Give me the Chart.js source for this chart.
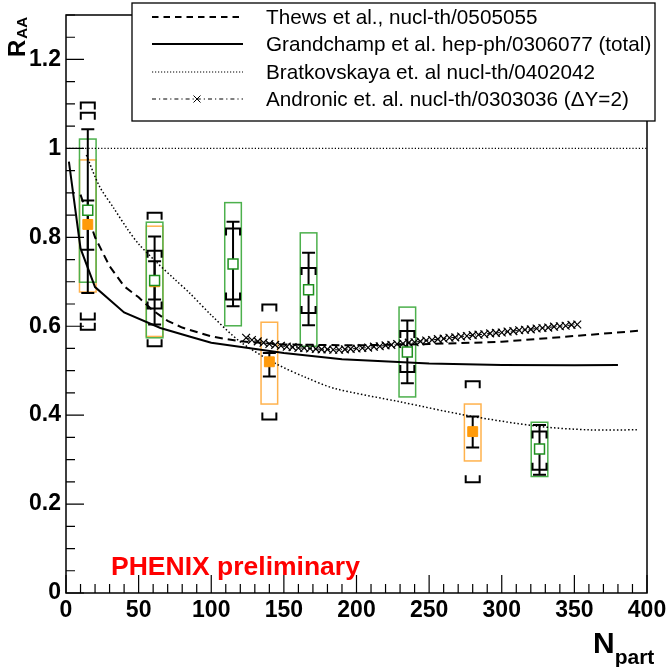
<!DOCTYPE html>
<html><head><meta charset="utf-8">
<script src="https://cdn.jsdelivr.net/npm/chart.js@4.4.0/dist/chart.umd.min.js"></script>
<style>html,body{margin:0;padding:0;background:#fff;} canvas{display:block;}</style>
</head><body>
<canvas id="c" width="667" height="667"></canvas>
<script>
// ---- axis ticks ----
const xTickValues = [0, 50, 100, 150, 200, 250, 300, 350, 400];
const xTickLabels = ['0', '50', '100', '150', '200', '250', '300', '350', '400'];
const yTickValues = [0, 0.2, 0.4, 0.6, 0.8, 1.0, 1.2];
const yTickLabels = ['0', '0.2', '0.4', '0.6', '0.8', '1', '1.2'];

// ---- PHENIX forward rapidity (green open squares) ----
const fwdNpart   = [15, 61, 115, 167, 235, 326];
const fwdRaa     = [0.861, 0.703, 0.740, 0.682, 0.542, 0.324];
const fwdStatLo  = [0.675, 0.660, 0.645, 0.602, 0.472, 0.266];
const fwdStatHi  = [1.043, 0.746, 0.835, 0.765, 0.613, 0.378];
const fwdSysLo   = [0.699, 0.574, 0.601, 0.555, 0.441, 0.262];
const fwdSysHi   = [1.021, 0.834, 0.878, 0.810, 0.643, 0.384];
const fwdGlobLo  = [0.615, 0.640, 0.660, 0.630, 0.497, 0.277];
const fwdGlobHi  = [1.080, 0.770, 0.820, 0.731, 0.589, 0.363];

// ---- PHENIX mid rapidity (orange filled squares) ----
const midNpart   = [15, 61, 140, 280];
const midRaa     = [0.829, 0.700, 0.520, 0.363];
const midStatLo  = [0.772, 0.604, 0.487, 0.327];
const midStatHi  = [0.883, 0.802, 0.540, 0.397];
const midSysLo   = [0.677, 0.577, 0.425, 0.297];
const midSysHi   = [0.974, 0.825, 0.609, 0.425];
const midGlobLo  = [0.592, 0.555, 0.390, 0.249];
const midGlobHi  = [1.103, 0.855, 0.649, 0.476];

// ---- theory curves ----
const thewsNpart = [10, 20, 30, 40, 50, 60, 70, 80, 100, 120, 150, 200, 250, 300, 350, 395];
const thewsRaa   = [0.896, 0.800, 0.735, 0.690, 0.665, 0.635, 0.612, 0.597, 0.577, 0.566, 0.559, 0.557, 0.560, 0.565, 0.578, 0.590];

const grandNpart = [2, 10, 20, 40, 65, 85, 100, 150, 190, 250, 300, 350, 380];
const grandRaa   = [0.970, 0.775, 0.688, 0.631, 0.596, 0.577, 0.563, 0.540, 0.526, 0.516, 0.513, 0.512, 0.513];

const bratNpart  = [14, 23, 33, 42, 50, 62, 75, 85, 100, 120, 145, 165, 185, 230, 275, 325, 360, 393];
const bratRaa    = [0.985, 0.915, 0.865, 0.820, 0.785, 0.745, 0.705, 0.675, 0.625, 0.565, 0.515, 0.485, 0.460, 0.430, 0.400, 0.375, 0.367, 0.367];

const refNpart   = [0, 400];
const refRaa     = [1.0, 1.0];

const andrNpart  = [124,128,132,136,140,144,148,152,156,160,164,168,172,176,180,184,188,192,196,200,204,208,212,216,220,224,228,232,236,240,244,248,252,256,260,264,268,272,276,280,284,288,292,296,300,304,308,312,316,320,324,328,332,336,340,344,348,352];
const andrRaa    = [0.574,0.569,0.566,0.563,0.560,0.558,0.556,0.554,0.553,0.551,0.551,0.550,0.549,0.548,0.548,0.547,0.547,0.548,0.549,0.550,0.551,0.552,0.554,0.555,0.557,0.558,0.560,0.561,0.563,0.564,0.566,0.568,0.569,0.571,0.572,0.574,0.575,0.577,0.578,0.580,0.581,0.582,0.584,0.585,0.586,0.588,0.589,0.591,0.592,0.593,0.595,0.596,0.597,0.599,0.600,0.601,0.603,0.604];

const legendLabels = ['Thews et al., nucl-th/0505055', 'Grandchamp et al. hep-ph/0306077 (total)', 'Bratkovskaya et. al nucl-th/0402042', 'Andronic et. al. nucl-th/0303036 (\u0394Y=2)'];

const FONT = '"Liberation Sans", Arial, Helvetica, sans-serif';
const fwdMarkColor = '#1f8f1f', fwdBoxColor = '#4cb04c';
const midMarkColor = '#ff9a0a', midBoxColor = '#ffb24d';

const pts = (xs, ys) => xs.map((v, i) => ({x: v, y: ys[i]}));

const drawPlugin = {
  id: 'phenixDraw',
  beforeDatasetsDraw(chart) {
    const ctx = chart.ctx, xs = chart.scales.x, ys = chart.scales.y;
    ctx.save();
    const boxes = (N, lo, hi, color) => {
      ctx.strokeStyle = color; ctx.lineWidth = 1.5;
      N.forEach((n, i) => {
        const px = xs.getPixelForValue(n);
        const y1 = ys.getPixelForValue(hi[i]), y2 = ys.getPixelForValue(lo[i]);
        ctx.strokeRect(px - 8.3, y1, 16.6, y2 - y1);
      });
    };
    boxes(midNpart, midSysLo, midSysHi, midBoxColor);
    boxes(fwdNpart, fwdSysLo, fwdSysHi, fwdBoxColor);
    ctx.strokeStyle = '#000'; ctx.lineWidth = 2;
    const bars = (N, lo, hi) => {
      N.forEach((n, i) => {
        const px = xs.getPixelForValue(n);
        const y1 = ys.getPixelForValue(hi[i]), y2 = ys.getPixelForValue(lo[i]);
        ctx.beginPath();
        ctx.moveTo(px, y1); ctx.lineTo(px, y2);
        ctx.moveTo(px - 6.5, y1); ctx.lineTo(px + 6.5, y1);
        ctx.moveTo(px - 6.5, y2); ctx.lineTo(px + 6.5, y2);
        ctx.stroke();
      });
    };
    const brackets = (N, lo, hi) => {
      N.forEach((n, i) => {
        const px = xs.getPixelForValue(n);
        const y1 = ys.getPixelForValue(hi[i]), y2 = ys.getPixelForValue(lo[i]);
        ctx.beginPath();
        ctx.moveTo(px - 7, y1 + 7); ctx.lineTo(px - 7, y1); ctx.lineTo(px + 7, y1); ctx.lineTo(px + 7, y1 + 7);
        ctx.moveTo(px - 7, y2 - 7); ctx.lineTo(px - 7, y2); ctx.lineTo(px + 7, y2); ctx.lineTo(px + 7, y2 - 7);
        ctx.stroke();
      });
    };
    bars(midNpart, midStatLo, midStatHi);
    bars(fwdNpart, fwdStatLo, fwdStatHi);
    brackets(midNpart, midGlobLo, midGlobHi);
    brackets(fwdNpart, fwdGlobLo, fwdGlobHi);
    ctx.restore();
  },
  afterDatasetsDraw(chart) {
    const ctx = chart.ctx, xs = chart.scales.x, ys = chart.scales.y, a = chart.chartArea;
    ctx.save();
    ctx.strokeStyle = '#000'; ctx.lineWidth = 1.5;
    ctx.strokeRect(a.left, a.top, a.right - a.left, a.bottom - a.top);
    ctx.lineWidth = 1.2;
    ctx.beginPath();
    for (let v = 0; v <= 400.001; v += 10) {
      const px = xs.getPixelForValue(v);
      const len = (Math.round(v) % 50 === 0) ? 18 : 9;
      ctx.moveTo(px, a.bottom); ctx.lineTo(px, a.bottom - len);
    }
    for (let k = 0; k <= 26; k++) {
      const v = k * 0.05;
      const py = ys.getPixelForValue(v);
      const len = (k % 4 === 0) ? 18 : 9;
      ctx.moveTo(a.left, py); ctx.lineTo(a.left + len, py);
    }
    ctx.stroke();
    ctx.restore();
  },
  afterDraw(chart) {
    const ctx = chart.ctx;
    ctx.save();
    // legend box
    ctx.fillStyle = '#fff';
    ctx.fillRect(132, 3, 523, 118);
    ctx.strokeStyle = '#000'; ctx.lineWidth = 1.3;
    ctx.strokeRect(132, 3, 523, 118);
    const rowY = [17, 44, 72, 99];
    const x0 = 152, x1 = 243;
    ctx.lineWidth = 2;
    ctx.setLineDash([6.5, 5]);
    ctx.beginPath(); ctx.moveTo(x0, rowY[0]); ctx.lineTo(x1, rowY[0]); ctx.stroke();
    ctx.setLineDash([]);
    ctx.beginPath(); ctx.moveTo(x0, rowY[1]); ctx.lineTo(x1, rowY[1]); ctx.stroke();
    ctx.lineWidth = 1.2;
    ctx.setLineDash([1.2, 1.8]);
    ctx.beginPath(); ctx.moveTo(x0, rowY[2]); ctx.lineTo(x1, rowY[2]); ctx.stroke();
    ctx.setLineDash([4, 3, 1.2, 3]);
    ctx.beginPath(); ctx.moveTo(x0, rowY[3]); ctx.lineTo(x1, rowY[3]); ctx.stroke();
    ctx.setLineDash([]);
    ctx.lineWidth = 1;
    const cx = 197, cy = rowY[3];
    ctx.beginPath(); ctx.moveTo(cx - 3.5, cy - 3.5); ctx.lineTo(cx + 3.5, cy + 3.5);
    ctx.moveTo(cx + 3.5, cy - 3.5); ctx.lineTo(cx - 3.5, cy + 3.5); ctx.stroke();
    ctx.fillStyle = '#000';
    ctx.font = '20.7px ' + FONT;
    ctx.textBaseline = 'middle'; ctx.textAlign = 'left';
    legendLabels.forEach((t, i) => ctx.fillText(t, 266, rowY[i] + 1));

    // PHENIX preliminary
    ctx.fillStyle = '#ff0000';
    ctx.font = 'bold 26.5px ' + FONT;
    ctx.textBaseline = 'alphabetic';
    ctx.fillText('PHENIX preliminary', 111, 575);

    // N_part
    ctx.fillStyle = '#000';
    ctx.font = 'bold 30px ' + FONT;
    ctx.fillText('N', 593, 653);
    const nW = ctx.measureText('N').width;
    ctx.font = 'bold 21px ' + FONT;
    ctx.fillText('part', 593 + nW, 664);

    // R_AA rotated
    ctx.translate(25, 57);
    ctx.rotate(-Math.PI / 2);
    ctx.font = 'bold 24px ' + FONT;
    ctx.fillText('R', 0, 0);
    const rW = ctx.measureText('R').width;
    ctx.font = 'bold 15px ' + FONT;
    ctx.fillText('AA', rW + 1, 2);
    ctx.restore();
  }
};

new Chart(document.getElementById('c'), {
  type: 'scatter',
  data: {
    datasets: [
      { label: 'fwd', data: pts(fwdNpart, fwdRaa), pointStyle: 'rect', pointRadius: 7, pointBackgroundColor: '#fff', pointBorderColor: fwdMarkColor, pointBorderWidth: 1.5, showLine: false },
      { label: 'mid', data: pts(midNpart, midRaa), pointStyle: 'rect', pointRadius: 7, pointBackgroundColor: midMarkColor, pointBorderColor: midMarkColor, pointBorderWidth: 1, showLine: false },
      { label: 'Andronic', data: pts(andrNpart, andrRaa), showLine: true, borderColor: '#000', borderWidth: 1, borderDash: [4, 2, 1, 2], pointStyle: 'crossRot', pointRadius: 5.5, pointBorderColor: '#000', pointBorderWidth: 1.2 },
      { label: 'Thews', data: pts(thewsNpart, thewsRaa), showLine: true, borderColor: '#000', borderWidth: 2, borderDash: [8, 5], pointRadius: 0 },
      { label: 'Grandchamp', data: pts(grandNpart, grandRaa), showLine: true, borderColor: '#000', borderWidth: 2, pointRadius: 0 },
      { label: 'Bratkovskaya', data: pts(bratNpart, bratRaa), showLine: true, borderColor: '#000', borderWidth: 1.5, borderDash: [1.5, 2.2], pointRadius: 0, tension: 0.3 },
      { label: 'ref', data: pts(refNpart, refRaa), showLine: true, borderColor: '#000', borderWidth: 1.2, borderDash: [1.2, 2], pointRadius: 0 }
    ]
  },
  options: {
    responsive: false,
    devicePixelRatio: 1,
    animation: false,
    events: [],
    layout: { padding: { left: 0, right: 20, top: 15, bottom: 0 } },
    plugins: { legend: { display: false }, tooltip: { enabled: false } },
    scales: {
      x: {
        type: 'linear', min: 0, max: 400,
        grid: { display: false, drawTicks: false },
        border: { display: false },
        afterBuildTicks: (s) => { s.ticks = xTickValues.map(v => ({ value: v })); },
        afterFit: (s) => { s.height = 74; s.paddingLeft = 0; s.paddingRight = 0; },
        ticks: { padding: 4, color: '#000', maxRotation: 0, autoSkip: false, font: { family: FONT, size: 23, weight: 'bold' },
          callback: (v, i) => xTickLabels[i] }
      },
      y: {
        type: 'linear', min: 0, max: 1.3,
        grid: { display: false, drawTicks: false },
        border: { display: false },
        afterBuildTicks: (s) => { s.ticks = yTickValues.map(v => ({ value: v })); },
        afterFit: (s) => { s.width = 66; s.paddingTop = 0; s.paddingBottom = 0; },
        ticks: { padding: 5, color: '#000', autoSkip: false, font: { family: FONT, size: 23, weight: 'bold' },
          callback: (v, i) => yTickLabels[i] }
      }
    }
  },
  plugins: [drawPlugin]
});
</script>
</body></html>
